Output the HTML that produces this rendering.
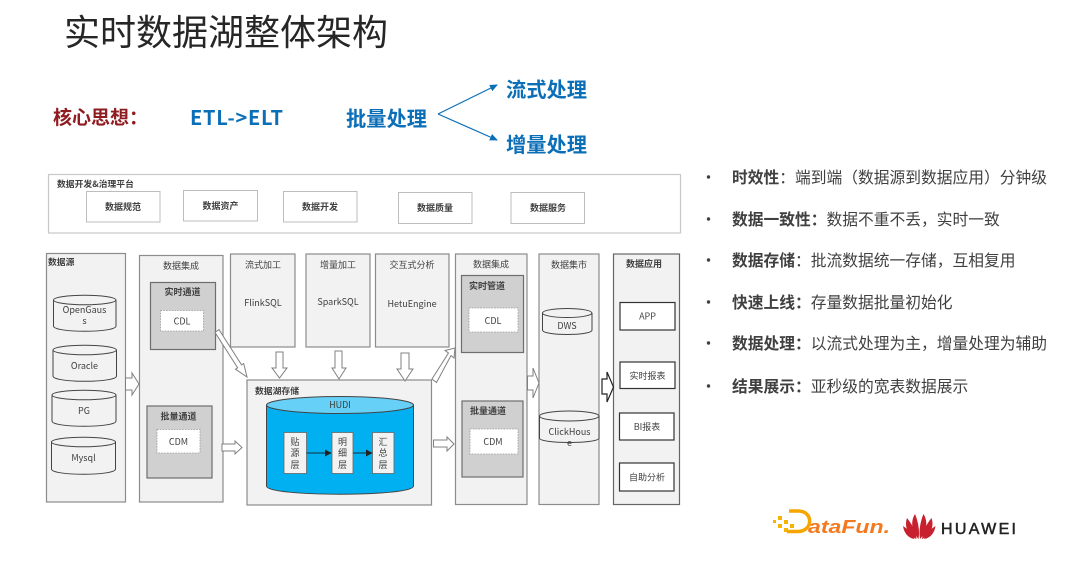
<!DOCTYPE html>
<html lang="zh">
<head>
<meta charset="utf-8">
<style>
html,body{margin:0;padding:0;background:#fff;width:1080px;height:562px;overflow:hidden}
svg{display:block}
text{font-family:"Noto Sans CJK SC","Liberation Sans",sans-serif;fill:#404040}
.t{font-size:9px;text-anchor:middle}
.b{font-weight:700}
.c{fill:#f2f2f2;stroke:#8c8c8c;stroke-width:1.2}
.w{fill:#fff;stroke:#bdbdbd;stroke-width:1}
.g{fill:#d0d0d0;stroke:#6e6e6e;stroke-width:1.2}
.d{fill:#fff;stroke:#9a9a9a;stroke-width:.8;stroke-dasharray:1.6 1.2}
.k{fill:#fff;stroke:#333;stroke-width:1.2}
.ar{fill:#fff;stroke:#808080;stroke-width:1}
.cy{fill:#f2f2f2;stroke:#444;stroke-width:1}
.li{font-size:15.75px;fill:#404040}
.blue{fill:#0b6fb8;font-weight:700;font-size:20.25px}
</style>
</head>
<body>
<svg width="1080" height="562" viewBox="0 0 1080 562" xmlns="http://www.w3.org/2000/svg">
<defs>
<marker id="m" markerWidth="8" markerHeight="8" refX="7" refY="4" orient="auto" markerUnits="userSpaceOnUse"><path d="M0,0.5 L8,4 L0,7.5Z" fill="#0b6fb8"/></marker>
<marker id="n" markerWidth="7" markerHeight="7" refX="6" refY="3.5" orient="auto" markerUnits="userSpaceOnUse"><path d="M0,0 L6.5,3.5 L0,7Z" fill="#222"/></marker>
</defs>

<text x="64" y="45" font-size="36" style="fill:#262626">实时数据湖整体架构</text>

<text x="53" y="124" font-size="19" class="b" style="fill:#8f1c21">核心思想：</text>
<text x="190" y="125" font-size="20" class="b" style="fill:#0b6fb8" textLength="93">ETL-&gt;ELT</text>
<text x="346" y="126" class="blue">批量处理</text>
<text x="506" y="97" class="blue">流式处理</text>
<text x="506" y="152" class="blue">增量处理</text>
<path d="M438,114 L497,85" fill="none" stroke="#0b6fb8" stroke-width="1.2" marker-end="url(#m)"/>
<path d="M438,114 L497,140" fill="none" stroke="#0b6fb8" stroke-width="1.2" marker-end="url(#m)"/>

<!-- platform -->
<rect x="48.500" y="174.500" width="632" height="58.500" fill="#fff" stroke="#c8c8c8" stroke-width="1.200"/>
<text x="57" y="187" font-size="8.800" class="b">数据开发&amp;治理平台</text>
<rect class="w" x="86.500" y="191.500" width="73.500" height="30.500"/><text class="t b" x="123" y="210">数据规范</text>
<rect class="w" x="183.500" y="190.500" width="74" height="30.500"/><text class="t b" x="220.500" y="209">数据资产</text>
<rect class="w" x="283.500" y="191.500" width="73.500" height="30.500"/><text class="t b" x="320" y="210">数据开发</text>
<rect class="w" x="398.500" y="192.500" width="73.500" height="31"/><text class="t b" x="435" y="211">数据质量</text>
<rect class="w" x="511" y="192.500" width="73.500" height="31"/><text class="t b" x="548" y="211">数据服务</text>

<!-- source -->
<rect class="c" x="46.500" y="253.500" width="79" height="248.500"/>
<text x="48" y="265" font-size="8.800" class="b">数据源</text>
<g id="cyls">
<path class="cy" d="M53.500,300 V326 C53.500,333 116,333 116,326 V300"/><ellipse class="cy" cx="84.700" cy="300" rx="31.200" ry="4.800"/>
<text class="t" x="84.500" y="313">OpenGaus</text><text class="t" x="84.500" y="324">s</text>
<path class="cy" d="M53,350 V376 C53,383 116.500,383 116.500,376 V350"/><ellipse class="cy" cx="84.700" cy="350" rx="31.700" ry="4.800"/>
<text class="t" x="84.500" y="369">Oracle</text>
<path class="cy" d="M52,395 V421 C52,428 116,428 116,421 V395"/><ellipse class="cy" cx="84" cy="395" rx="32" ry="4.800"/>
<text class="t" x="84" y="414">PG</text>
<path class="cy" d="M51.500,442 V469 C51.500,476 115.500,476 115.500,469 V442"/><ellipse class="cy" cx="83.500" cy="442" rx="32" ry="4.800"/>
<text class="t" x="83.500" y="461">Mysql</text>
</g>

<!-- integration 1 -->
<rect class="c" x="139.500" y="255.500" width="83.500" height="246.500"/>
<text class="t" x="181" y="269">数据集成</text>
<rect class="g" x="150.500" y="282.500" width="65" height="67"/>
<text class="t b" x="182.500" y="295">实时通道</text>
<rect class="d" x="160.500" y="310.500" width="43" height="20.500"/>
<text class="t" x="182" y="324.500">CDL</text>
<rect class="g" x="147" y="406" width="65" height="72"/>
<text class="t b" x="178.500" y="419.500">批量通道</text>
<rect class="d" x="157" y="429.500" width="43" height="23.500"/>
<text class="t" x="178.500" y="445">CDM</text>

<!-- compute -->
<rect class="c" x="230.500" y="254" width="64.500" height="93"/>
<text class="t" x="263" y="268">流式加工</text><text class="t" x="263" y="306">FlinkSQL</text>
<rect class="c" x="306" y="254" width="64" height="93"/>
<text class="t" x="338" y="268">增量加工</text><text class="t" x="338" y="305">SparkSQL</text>
<rect class="c" x="375.500" y="254" width="73.500" height="93"/>
<text class="t" x="412" y="268">交互式分析</text><text class="t" x="412" y="307">HetuEngine</text>

<!-- lake -->
<rect class="c" x="247" y="380" width="184.500" height="125"/>
<text x="255" y="394" font-size="8.800" class="b">数据湖存储</text>
<path d="M266.500,405 V486 C266.500,497 413.500,497 413.500,486 V405Z" fill="#00b0f0" stroke="#444" stroke-width="1"/>
<ellipse cx="340" cy="405" rx="73.500" ry="8.500" fill="#66d0f7" stroke="#444" stroke-width="1"/>
<text class="t" x="340" y="408">HUDI</text>
<rect x="284" y="432.500" width="22.500" height="41" fill="#f2f2f2" stroke="#666" stroke-width=".8"/>
<rect x="332" y="432.500" width="21" height="41" fill="#f2f2f2" stroke="#666" stroke-width=".8"/>
<rect x="372.500" y="432.500" width="21.500" height="41" fill="#f2f2f2" stroke="#666" stroke-width=".8"/>
<g font-size="9" text-anchor="middle">
<text x="295" y="445">贴</text><text x="295" y="456">源</text><text x="295" y="468">层</text>
<text x="342.500" y="445">明</text><text x="342.500" y="456">细</text><text x="342.500" y="468">层</text>
<text x="383" y="445">汇</text><text x="383" y="456">总</text><text x="383" y="468">层</text>
</g>
<path d="M306.500,453 H331" stroke="#0a5b7c" stroke-width="1.400" marker-end="url(#n)"/>
<path d="M353,453 H372" stroke="#0a5b7c" stroke-width="1.400" marker-end="url(#n)"/>

<!-- integration 2 -->
<rect class="c" x="455.500" y="254" width="71.500" height="250.500"/>
<text class="t" x="491" y="267.500">数据集成</text>
<rect class="g" x="461.500" y="275.500" width="62" height="77"/>
<text class="t b" x="487" y="289">实时管道</text>
<rect class="d" x="469" y="308" width="49" height="24"/>
<text class="t" x="493" y="324">CDL</text>
<rect class="g" x="462" y="401" width="61" height="76"/>
<text class="t b" x="488" y="414">批量通道</text>
<rect class="d" x="470" y="429" width="48" height="25"/>
<text class="t" x="493" y="445">CDM</text>

<!-- mart -->
<rect class="c" x="539" y="254" width="60" height="250.500"/>
<text class="t" x="569" y="268">数据集市</text>
<path class="cy" d="M542.500,313 V330 C542.500,336 592,336 592,330 V313"/><ellipse class="cy" cx="567.200" cy="313" rx="24.700" ry="4.500"/>
<text class="t" x="567" y="329">DWS</text>
<path class="cy" d="M539.500,416 V438 C539.500,444 599,444 599,438 V416"/><ellipse class="cy" cx="569.200" cy="416" rx="29.700" ry="5"/>
<text class="t" x="569.500" y="435">ClickHous</text><text class="t" x="569.500" y="446">e</text>

<!-- apps -->
<rect x="613.500" y="254" width="66" height="250.500" fill="#f2f2f2" stroke="#666" stroke-width="1.200"/>
<text class="t b" x="644" y="267">数据应用</text>
<rect class="k" x="620" y="302.500" width="55" height="27.500"/><text class="t" x="647.500" y="319.500">APP</text>
<rect class="k" x="620" y="362" width="55" height="26.500"/><text class="t" x="647.500" y="379">实时报表</text>
<rect class="k" x="619.500" y="413" width="54.500" height="27"/><text class="t" x="647" y="430">BI报表</text>
<rect class="k" x="619.500" y="463" width="54.500" height="28"/><text class="t" x="647" y="480.500">自助分析</text>

<!-- block arrows -->
<path class="ar" d="M125.500,378 H132 V373 L139,384 L132,395 V390 H125.500Z"/>
<path class="ar" d="M222,444 H235 V441 L242,447.500 L235,454 V451 H222Z"/>
<path class="ar" d="M433.500,440 H447 V437 L454,444 L447,451 V447 H433.500Z"/>
<path class="ar" d="M527.500,376 H533 V368 L539,383 L533,398 V390 H527.500Z"/>
<path d="M602,379 H607 V372 L613.500,387 L607,402 V394 H602Z" fill="#fff" stroke="#222" stroke-width="1.200"/>
<path class="ar" d="M276,352 H283 V368 H287 L279.500,378 L272,368 H276Z"/>
<path class="ar" d="M335,351 H342 V368 H346 L339,379 L332,368 H335Z"/>
<path class="ar" d="M401,353 H409 V369 H413 L405,381 L397,369 H401Z"/>
<path class="ar" d="M219,329.600 L241.600,364.900 L243.700,363.500 L247,377 L235.500,369.200 L237.600,367.700 L215,332.400Z"/>
<path class="ar" d="M432,379 L448.500,353 L445,350.500 L455,348 L454,358 L451,355.500 L436.500,382.500Z"/>

<!-- bullets -->
<g fill="#404040">
<circle cx="708.500" cy="177" r="1.700"/><circle cx="708.500" cy="219" r="1.700"/><circle cx="708.500" cy="260" r="1.700"/><circle cx="708.500" cy="302" r="1.700"/><circle cx="708.500" cy="343" r="1.700"/><circle cx="708.500" cy="386" r="1.700"/>
</g>
<text class="li" x="732" y="183"><tspan class="b">时效性</tspan>：端到端（数据源到数据应用）分钟级</text>
<text class="li" x="732" y="225"><tspan class="b">数据一致性：</tspan>数据不重不丢，实时一致</text>
<text class="li" x="732" y="266"><tspan class="b">数据存储</tspan>：批流数据统一存储，互相复用</text>
<text class="li" x="732" y="308"><tspan class="b">快速上线：</tspan>存量数据批量初始化</text>
<text class="li" x="732" y="349"><tspan class="b">数据处理：</tspan>以流式处理为主，增量处理为辅助</text>
<text class="li" x="732" y="392"><tspan class="b">结果展示：</tspan>亚秒级的宽表数据展示</text>

<!-- logos -->
<g fill="#f5b400">
<rect x="773" y="520" width="3" height="3"/><rect x="778" y="516" width="4" height="4"/><rect x="778" y="524" width="4" height="4"/><rect x="784" y="520" width="4" height="4"/><rect x="784" y="528" width="4" height="4"/><rect x="790" y="524" width="4" height="4"/>
</g>
<path d="M789,511 H798 C814,511 813,531.500 798,531.500 H787" fill="none" stroke="#f7a600" stroke-width="3.500"/>
<text x="808" y="533" font-size="18" font-style="italic" class="b" style="fill:#f47a1f;font-family:'Liberation Sans',sans-serif" textLength="82" lengthAdjust="spacingAndGlyphs">ataFun.</text>
<g fill="#c8202f">
<path d="M918.500,539 C912,532 910,522 915,514 C918,521 920,531 918.500,539Z"/>
<path d="M920,539 C926.500,532 928.500,522 923.500,514 C920.500,521 918.500,531 920,539Z"/>
<path d="M916.500,539 C908,535 904,527 907,518 C912,524 916,532 916.500,539Z"/>
<path d="M922,539 C930.500,535 934.500,527 931.500,518 C926.500,524 922.500,532 922,539Z"/>
<path d="M914.500,539 C908,538 904,533 903,526 C908,529 912.500,534 914.500,539Z"/>
<path d="M924,539 C930.500,538 934.500,533 935.500,526 C930.500,529 926,534 924,539Z"/>
</g>
<text x="941" y="534" font-size="16" style="fill:#222;font-family:'Liberation Sans',sans-serif;stroke:#222;stroke-width:.5" textLength="75">HUAWEI</text>
</svg>
</body>
</html>
